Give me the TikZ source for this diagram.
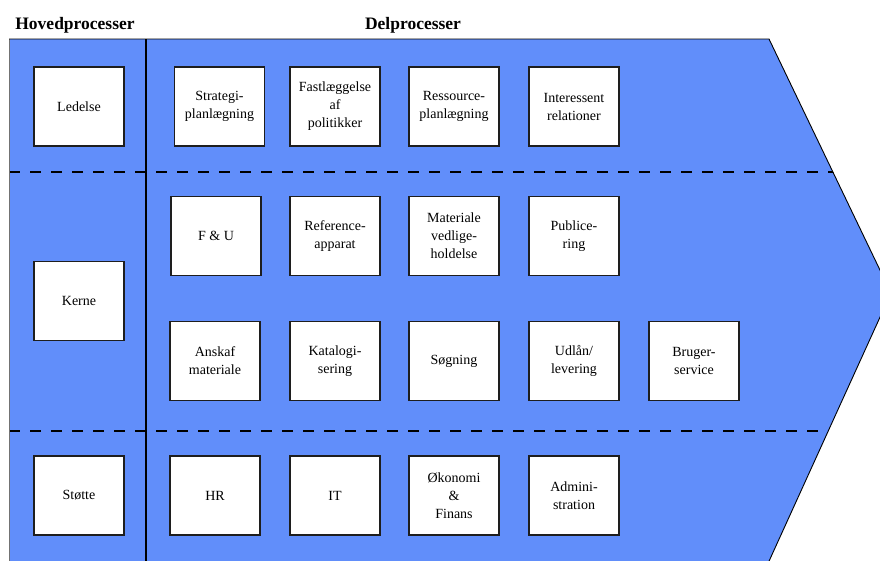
\documentclass[tikz,border=0pt]{standalone}
\usepackage{fontspec}
\setmainfont{Liberation Serif}
\definecolor{chainblue}{RGB}{97,142,250}
\definecolor{edgegray}{RGB}{30,30,30}
\begin{document}
\begin{tikzpicture}[x=1pt,y=-1pt,
  box/.style={draw=edgegray, line width=1.1pt, fill=white, minimum width=90pt, minimum height=79pt,
    inner sep=0pt, align=center, font=\fontsize{14}{18}\selectfont},
  header/.style={font=\fontsize{17.5}{20}\selectfont\bfseries, anchor=base},
  sep/.style={dashed, dash pattern=on 11pt off 10pt, line width=1.6pt, black}]
\useasboundingbox (0,0) rectangle (880,560);
\clip (0,0) rectangle (880,560);
\coordinate (tl) at (9,39);
\coordinate (tr) at (769,39);
\coordinate (tip) at (891,293);
\coordinate (br) at (765,570);
\coordinate (bl) at (9,570);
\fill[chainblue] (tl) -- (tr) -- (tip) -- (br) -- (bl) -- cycle;
\begin{scope}
  \clip (tl) -- (tr) -- (tip) -- (br) -- (bl) -- cycle;
  \coordinate (d1a) at (9,172);
  \coordinate (d1b) at (900,172);
  \coordinate (d2a) at (9,431);
  \coordinate (d2b) at (900,431);
  \draw[sep] (d1a) -- (d1b);
  \draw[sep] (d2a) -- (d2b);
\end{scope}
\draw[black!55, line width=0.9pt] (bl) -- (tl);
\draw[black, line width=0.9pt] (tl) -- (tr) -- (tip) -- (br);
\coordinate (vt) at (146,39);
\coordinate (vb) at (146,570);
\draw[black, line width=1.2pt] (vt) -- (vb);

\node[header] (h1) at (75,29) {Hovedprocesser};
\node[header] (h2) at (413,29) {Delprocesser};

\node[box] (ledelse) at (79,106.5) {Ledelse};
\node[box] (kerne) at (79,301) {Kerne};
\node[box] (stotte) at (79,495.5) {Støtte};

\node[box] (strat) at (219.5,106.5) {Strategi-\\planlægning};
\node[box] (fast) at (335,106.5) {Fastlæggelse\\af\\politikker};
\node[box] (ress) at (454,106.5) {Ressource-\\planlægning};
\node[box] (inter) at (574,106.5) {Interessent\\relationer};

\node[box] (fu) at (216,236) {F \& U};
\node[box] (ref) at (335,236) {Reference-\\apparat};
\node[box] (mat) at (454,236) {Materiale\\vedlige-\\holdelse};
\node[box] (pub) at (574,236) {Publice-\\ring};

\node[box] (ansk) at (215,361) {Anskaf\\materiale};
\node[box] (kat) at (335,361) {Katalogi-\\sering};
\node[box] (sog) at (454,361) {Søgning};
\node[box] (udl) at (574,361) {Udlån/\\levering};
\node[box] (brug) at (694,361) {Bruger-\\service};

\node[box] (hr) at (215,495.5) {HR};
\node[box] (it) at (335,495.5) {IT};
\node[box] (oko) at (454,495.5) {Økonomi\\\&\\Finans};
\node[box] (adm) at (574,495.5) {Admini-\\stration};
\end{tikzpicture}
\end{document}
